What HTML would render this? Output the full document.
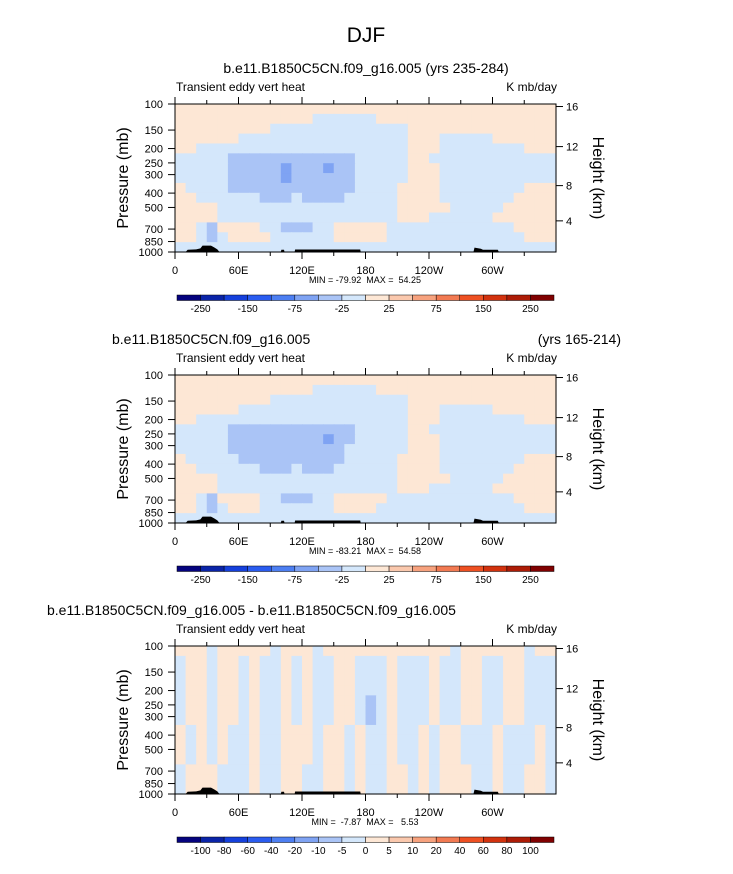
<!DOCTYPE html>
<html><head><meta charset="utf-8"><style>
html,body{margin:0;padding:0;background:#fff}
svg{display:block;font-family:"Liberation Sans",sans-serif}
text{white-space:pre}
</style></head><body>
<svg id="fig" width="733" height="874" viewBox="0 0 733 874" xmlns="http://www.w3.org/2000/svg">
<text x="366" y="42" font-size="21" text-anchor="middle">DJF</text>
<text x="366" y="73" font-size="14" text-anchor="middle">b.e11.B1850C5CN.f09_g16.005 (yrs 235-284)</text>
<text x="112" y="344" font-size="14">b.e11.B1850C5CN.f09_g16.005</text>
<text x="621" y="344" font-size="14" text-anchor="end">(yrs 165-214)</text>
<text x="47" y="615" font-size="14">b.e11.B1850C5CN.f09_g16.005 - b.e11.B1850C5CN.f09_g16.005</text>
<g id="panels"></g>
</svg>
<script>
// ---- data ----
const lonTicks=[0,60,120,180,240,300];
const lonLabels=["0","60E","120E","180","120W","60W"];
const pTicks=[100,150,200,250,300,400,500,700,850,1000];
const hTicks=[4,8,12,16];
const hTickP=[616,356,194,104]; // pressure at which height ticks appear
const rowsTop=[
"cccccccccccccccccccccccccccccccccccc",
"cccccccccccccbbbbbbccccccccccccccccc",
"cccccccccbbbbbbbbbbbbbcccccccccccccc",
"ccccccbbbbbbbbbbbbbbbbcccbbbbbcccccc",
"ccbbbbbbbbbbbbbbbbbbbbcccbbbbbbbbccc",
"bbbbbmmmmmmmmmmmmbbbbbccbbbbbbbbbbbb",
"bbbbbmmmmmdmmmdmmbbbbbcccbbbbbbbbbbb",
"bbbbbmmmmmdmmmmmmbbbbbcccbbbbbbbbbbb",
"cbbbbmmmmmmmmmmmmbbbbccccbbbbbbbbccc",
"ccbbbbbbmmmbmmmmbbbbbccccbbbbbbbcccc",
"ccccbbbbbbbbbbbbbbbbbcccccbbbbbccccc",
"ccccbbbbbbbbbbbbbbbbbcccbbbbbbcccccc",
"ccbmccccbbmmmbbcccccbbbbbbbbbbbbcccc",
"ccbmbccccbbbbbbcccccbbbbbbbbbbbbbccc",
"bbbbbbbbbbbbbbbbbbbbbbbbbbbbbbbbbbbb"];
const rowsMid=[
"cccccccccccccccccccccccccccccccccccc",
"cccccccccccccbbbbbbccccccccccccccccc",
"cccccccccbbbbbbbbbbbbbcccccccccccccc",
"ccccccbbbbbbbbbbbbbbbbcccbbbbbcccccc",
"ccbbbbbbbbbbbbbbbbbbbbcccbbbbbbbbccc",
"bbbbbmmmmmmmmmmmmbbbbbccbbbbbbbbbbbb",
"bbbbbmmmmmmmmmdmmbbbbbcccbbbbbbbbbbb",
"bbbbbmmmmmmmmmmmbbbbbbcccbbbbbbbbbbb",
"cbbbbbmmmmmmmmmmbbbbbccccbbbbbbbbccc",
"ccbbbbbbmmmbmmmbbbbbbccccbbbbbbbcccc",
"ccccbbbbbbbbbbbbbbbbbcccccbbbbbccccc",
"ccccbbbbbbbbbbbbbbbbbcccbbbbbbcccccc",
"ccbmccccbbmmmbbcccccbbbbbbbbbbbbcccc",
"ccbmbcccbbbbbbbccccbbbbbbbbbbbbbbccc",
"bbbbbbbbbbbbbbbbbbbbbbbbbbbbbbbbbbbb"];
const rowsDiff=[
"cccbcccccbcccbccccccccccccbccccccbcc",
"bccbccbcbbcbcbbccbbbcbbbcbbccbbccbbb",
"bccbccbcbbcbcbbccbbbcbbbcbbccbbccbbb",
"bccbccbcbbcbcbbccbbbcbbbcbbccbbccbbb",
"bccbccbcbbcbcbbccbbbcbbbcbbccbbccbbb",
"bccbccbcbbcbcbbccbmbcbbbcbbccbbccbbb",
"bccbccbcbbcbcbbccbmbcbbbcbbccbbccbbb",
"bccbccbcbbcbcbbccbmbcbbbcbbccbbccbbb",
"cbcbcbbcbbcccbccbcbbcbbcbccbbbcbbbcb",
"cbcbcbbcbbcccbccbcbbcbbcbccbbbcbbbcb",
"cbcbcbbcbbcccbccbcbbcbbcbccbbbcbbbcb",
"cbcbcbbcbbcccbccbcbbcbbcbccbbbcbbbcb",
"bcccbbbcbbccbbccbcbbccbcbcccbbcbbccb",
"bcccbbbcbbccbbccbcbbccbcbcccbbcbbccb",
"bcccbbbcbbccbbccbcbbccbcbcccbbcbbccb"];
const terrLon=[10,12,20,24,26,34,37,40,42,100,100.5,103,103.5,113,113.5,175,175.5,282,283,289,291,305,306];
const terrP=[1000,965,960,945,905,905,930,960,1000,1000,965,965,1000,1000,962,962,1000,1000,935,950,965,965,1000];
const cbColors=["#05037e","#0a24a8","#1540dc","#2a5cf0","#4d7ff2","#7fa3f3","#aac4f6","#d4e7fb","#fde7d5","#fac8ad","#f7a27e","#f27a52","#ee5022","#d2320e","#ad1c06","#800101"];
const cbLabels1=["-250","","-150","","-75","","-25","","25","","75","","150","","250"];
const cbLabels3=["-100","-80","-60","-40","-20","-10","-5","0","5","10","20","40","60","80","100"];
const minmax=["MIN = -79.92  MAX =  54.25","MIN = -83.21  MAX =  54.58","MIN =  -7.87  MAX =   5.53"];
const fillColors={c:"#fde7d5",b:"#d4e7fb",m:"#aac4f6",d:"#7fa3f3"};
// ---- drawing ----
const NS="http://www.w3.org/2000/svg";
const root=document.getElementById('panels');
function mk(tag,attrs,parent){const e=document.createElementNS(NS,tag);for(const k in attrs)e.setAttribute(k,attrs[k]);parent.appendChild(e);return e;}
const X0=175,X1=556,H=148;
const xs=l=>X0+l/360*(X1-X0);
function panel(top,rows,cbLabels,mm,idx){
  const g=mk('g',{},root);
  
  
  const ys=p=>top+Math.log(p/100)/Math.log(10)*H;
  const nr=rows.length,nc=rows[0].length,cw=(X1-X0)/nc,rh=H/nr;
  for(let r=0;r<nr;r++)for(let c=0;c<nc;c++){
    const cell=mk('rect',{x:X0+c*cw,y:top+r*rh,width:cw+0.6,height:rh+0.6,fill:fillColors[rows[r][c]]},g);
    
    
  }
  let pts=terrLon.map((l,i)=>xs(l)+','+ys(terrP[i])).join(' ');
  const t=mk('polygon',{points:pts,fill:"#000"},g);
  
  
  const fr=mk('rect',{x:X0,y:top,width:X1-X0,height:H,fill:"none",stroke:"#000","stroke-width":1},g);
  
  
  for(let l=0;l<360;l+=30){
    const len=l%60==0?7:4;
    mk('line',{x1:xs(l),x2:xs(l),y1:top,y2:top-len,stroke:"#000"},g);
    mk('line',{x1:xs(l),x2:xs(l),y1:top+H,y2:top+H+len,stroke:"#000"},g);
  }
  lonTicks.forEach((l,i)=>{const tx=mk('text',{x:xs(l),y:top+H+22,"font-size":11,"text-anchor":"middle"},g);tx.textContent=lonLabels[i];
    
    });
  pTicks.forEach(p=>{mk('line',{x1:X0-7,x2:X0,y1:ys(p),y2:ys(p),stroke:"#000"},g);
    const tx=mk('text',{x:X0-12,y:ys(p)+4,"font-size":11,"text-anchor":"end"},g);tx.textContent=p;
    
    });
  hTicks.forEach((h,i)=>{const y=ys(hTickP[i]);mk('line',{x1:X1,x2:X1+7,y1:y,y2:y,stroke:"#000"},g);
    const tx=mk('text',{x:X1+10,y:y+4,"font-size":11},g);tx.textContent=h;
    
    });
  const yt=mk('text',{x:0,y:0,"font-size":16,"text-anchor":"middle",transform:`translate(128,${top+H/2}) rotate(-90)`},g);yt.textContent="Pressure (mb)";
  
  
  const ht=mk('text',{x:0,y:0,"font-size":16,"text-anchor":"middle",transform:`translate(593,${top+H/2}) rotate(90)`},g);ht.textContent="Height (km)";
  
  
  const lt=mk('text',{x:176,y:top-13,"font-size":12},g);lt.textContent="Transient eddy vert heat";
  
  
  const rt=mk('text',{x:557,y:top-13,"font-size":12,"text-anchor":"end"},g);rt.textContent="K mb/day";
  
  
  const mt=mk('text',{x:365,y:top+H+31,"font-size":9,"text-anchor":"middle"},g);mt.textContent=mm;
  
  
  const cy=top+191,bw=(554-177)/16;
  cbColors.forEach((col,i)=>{const r=mk('rect',{x:177+i*bw,y:cy,width:bw,height:5.5,fill:col,stroke:"#000","stroke-width":0.5},g);
    
    });
  cbLabels.forEach((s,i)=>{if(!s)return;const tx=mk('text',{x:177+(i+1)*bw,y:cy+17,"font-size":10,"text-anchor":"middle"},g);tx.textContent=s;
    
    });
}
panel(104,rowsTop,cbLabels1,minmax[0],1);
panel(375,rowsMid,cbLabels1,minmax[1],2);
panel(646,rowsDiff,cbLabels3,minmax[2],3);
</script>
</body></html>
